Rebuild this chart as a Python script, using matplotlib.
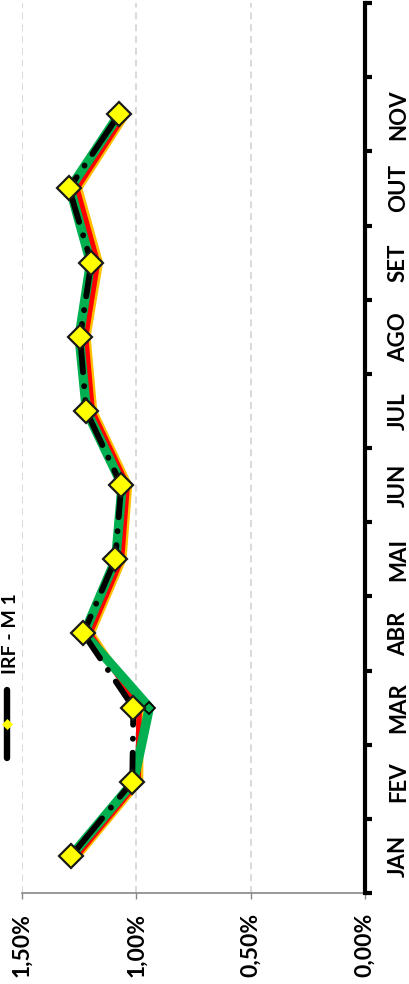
import matplotlib
matplotlib.use("Agg")
import matplotlib.pyplot as plt
from matplotlib.lines import Line2D
from matplotlib.ticker import FixedLocator, FuncFormatter

plt.rcParams['font.family'] = ['Lato', 'DejaVu Sans']
plt.rcParams['lines.scale_dashes'] = False

months = ["JAN", "FEV", "MAR", "ABR", "MAI", "JUN", "JUL", "AGO", "SET", "OUT", "NOV", ""]
irf_m1 = [1.285, 1.018, 1.013, 1.232, 1.092, 1.066, 1.219, 1.246, 1.197, 1.294, 1.075]
green_s = [1.285, 1.012, 0.943, 1.228, 1.090, 1.062, 1.218, 1.250, 1.200, 1.290, 1.075]
red_s = [1.260, 0.992, 0.988, 1.203, 1.065, 1.040, 1.193, 1.222, 1.170, 1.260, 1.050]
orange_s = [1.248, 0.980, 0.978, 1.191, 1.053, 1.028, 1.181, 1.210, 1.156, 1.246, 1.038]
value_ticks = [0.0, 0.5, 1.0, 1.5]
legend_label = "IRF - M 1"

W, H = 409, 984
fig = plt.figure(figsize=(W / 100, H / 100), dpi=100)
ax = fig.add_axes([22 / W, 91 / H, (365 - 22) / W, (893 - 3) / H])

pos = list(range(len(irf_m1)))

ax.plot(orange_s, pos, color="#FFC000", lw=3.4, solid_capstyle="round", zorder=2)
ax.plot(red_s, pos, color="#FF0000", lw=4.0, solid_capstyle="round", zorder=3)
ax.plot(green_s, pos, color="#00B050", lw=6.8, solid_capstyle="round", zorder=4,
        marker="D", markersize=6.5, markerfacecolor="#00B050", markeredgecolor="black",
        markeredgewidth=1.3)
ax.plot(irf_m1, pos, color="black", lw=4.2, dash_capstyle="round",
        linestyle=(0, (35, 10, 0.1, 10)), zorder=5)
ax.plot(irf_m1, pos, linestyle="none", marker="D", markersize=12,
        markerfacecolor="#FFFF00", markeredgecolor="#1a1a1a", markeredgewidth=1.6, zorder=6)

ax.set_xlim(1.5, 0.0)
ax.set_ylim(-0.5, len(months) - 0.5)

# value axis (bottom)
ax.xaxis.set_major_locator(FixedLocator(value_ticks))
ax.xaxis.set_major_formatter(FuncFormatter(lambda v, p: f"{v:.2f}%".replace(".", ",")))
ax.tick_params(axis="x", which="major", direction="out", length=4.5, width=1,
               color="#868686", pad=10, labelsize=16.5, labelrotation=90)
for t in ax.get_xticklabels():
    t.set_fontweight("bold")
ax.grid(axis="x", color="#d9d9d9", linestyle=(0, (5, 3.5)), lw=1.4, zorder=0)

# category axis (right)
ax.yaxis.tick_right()
ax.yaxis.set_major_locator(FixedLocator([i - 0.5 for i in range(len(months) + 1)]))
ax.yaxis.set_major_formatter(FuncFormatter(lambda v, p: ""))
ax.yaxis.set_minor_locator(FixedLocator(list(range(len(months)))))
ax.yaxis.set_minor_formatter(FuncFormatter(lambda v, p: months[int(round(v))]))
ax.tick_params(axis="y", which="major", direction="out", length=5, width=3, color="black")
ax.tick_params(axis="y", which="minor", length=0, pad=16.5, labelsize=16)
for t in ax.get_yticklabels(minor=True):
    t.set_rotation(90)
    t.set_fontweight("bold")
    t.set_va("center")

for s in ["left", "top"]:
    ax.spines[s].set_visible(False)
ax.spines["right"].set_linewidth(3)
ax.spines["right"].set_color("black")
ax.spines["right"].set_zorder(7)
ax.spines["bottom"].set_linewidth(1.2)
ax.spines["bottom"].set_color("#868686")

# manual rotated legend
leg_line = Line2D([7 / W, 7 / W], [1 - 690 / H, 1 - 758 / H], transform=fig.transFigure,
                  color="black", lw=4.6, solid_capstyle="round")
fig.add_artist(leg_line)
leg_mark = Line2D([7 / W], [1 - 724 / H], transform=fig.transFigure, linestyle="none",
                  marker="D", markersize=5.5, markerfacecolor="#FFFF00",
                  markeredgecolor="#FFFF00", markeredgewidth=0.5)
fig.add_artist(leg_mark)
fig.text(11 / W, 1 - 634 / H, legend_label, rotation=90, ha="center", va="center",
         fontsize=14, fontweight="bold")

fig.savefig("out.png", dpi=100)
